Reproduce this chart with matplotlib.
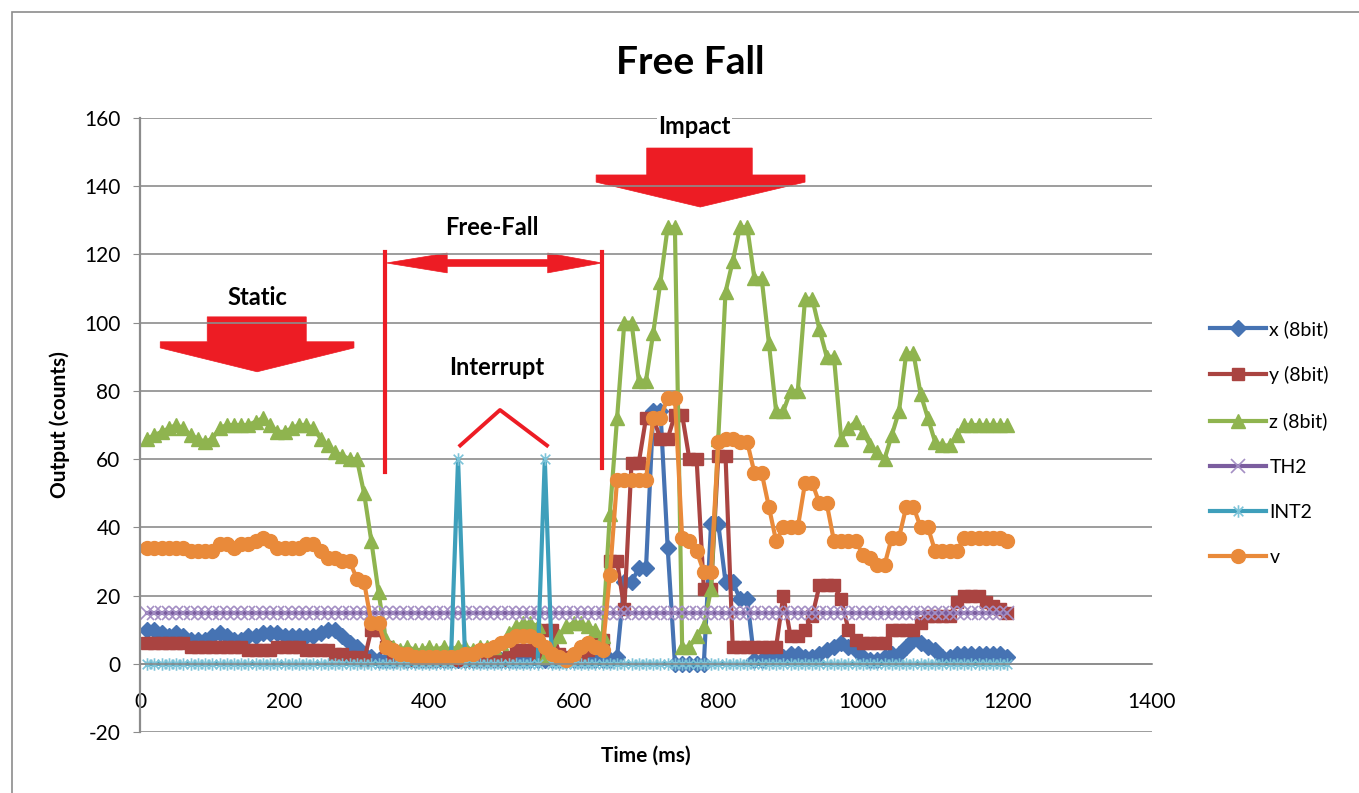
import matplotlib
matplotlib.use("Agg")
import matplotlib.pyplot as plt
from matplotlib.patches import Polygon, Rectangle
from matplotlib.path import Path
import numpy as np

plt.rcParams['font.family'] = ['Lato', 'DejaVu Sans']
plt.rcParams['axes.unicode_minus'] = False

# ==========================================
# DATA (one sample every 10 ms)
# ==========================================
time_ms = np.arange(10, 1210, 10)

x_8bit = [10, 10, 9, 8, 9, 8, 7, 7, 7, 8,
          9, 8, 7, 7, 8, 8, 9, 9, 9, 8,
          8, 8, 8, 8, 9, 10, 10, 8, 6, 5,
          3, 2, 1, 1, 1, 2, 1, 1, 1, 1,
          1, 1, 1, 1, 1, 1, 1, 1, 1, 1,
          1, 1, 1, 1, 1, 1, 1, 1, 1, 1,
          1, 1, 1, 1, 1, 2, 24, 24, 28, 28,
          74, 74, 34, 0, 0, 0, 0, 0, 41, 41,
          24, 24, 19, 19, 1, 1, 2, 2, 2, 3,
          3, 2, 2, 3, 4, 5, 6, 5, 4, 2,
          1, 1, 2, 3, 3, 5, 7, 6, 5, 4,
          2, 2, 3, 3, 3, 3, 3, 3, 3, 2]

y_8bit = [6, 6, 6, 6, 6, 6, 5, 5, 5, 5,
          5, 5, 5, 5, 4, 4, 4, 4, 5, 5,
          5, 5, 4, 4, 4, 4, 3, 3, 2, 2,
          1, 10, 10, 5, 2, 1, 1, 1, 2, 1,
          1, 1, 1, 2, 1, 1, 1, 2, 1, 1,
          2, 4, 4, 4, 3, 10, 10, 3, 2, 2,
          2, 4, 6, 7, 30, 30, 16, 59, 59, 72,
          72, 66, 66, 73, 73, 60, 60, 22, 22, 61,
          61, 5, 5, 5, 5, 5, 5, 5, 20, 8,
          8, 10, 14, 23, 23, 23, 19, 10, 7, 6,
          6, 6, 6, 10, 10, 10, 10, 12, 14, 14,
          14, 14, 18, 20, 20, 20, 18, 17, 16, 15]

z_8bit = [66, 67, 68, 69, 70, 69, 67, 66, 65, 66,
          69, 70, 70, 70, 70, 71, 72, 70, 68, 68,
          69, 70, 70, 69, 66, 64, 62, 61, 60, 60,
          50, 36, 21, 7, 5, 4, 5, 4, 4, 5,
          4, 5, 4, 5, 5, 4, 5, 5, 5, 6,
          9, 11, 12, 12, 11, 2, 4, 8, 11, 12,
          12, 11, 10, 8, 44, 72, 100, 100, 83, 83,
          97, 112, 128, 128, 5, 5, 8, 11, 22, 66,
          109, 118, 128, 128, 113, 113, 94, 74, 74, 80,
          80, 107, 107, 98, 90, 90, 66, 69, 71, 68,
          64, 62, 60, 67, 74, 91, 91, 79, 72, 65,
          64, 64, 67, 70, 70, 70, 70, 70, 70, 70]

th2 = [15] * 120

int2 = [0, 0, 0, 0, 0, 0, 0, 0, 0, 0,
        0, 0, 0, 0, 0, 0, 0, 0, 0, 0,
        0, 0, 0, 0, 0, 0, 0, 0, 0, 0,
        0, 0, 0, 0, 0, 0, 0, 0, 0, 0,
        0, 0, 0, 60, 0, 0, 0, 0, 0, 0,
        0, 0, 0, 0, 0, 60, 0, 0, 0, 0,
        0, 0, 0, 0, 0, 0, 0, 0, 0, 0,
        0, 0, 0, 0, 0, 0, 0, 0, 0, 0,
        0, 0, 0, 0, 0, 0, 0, 0, 0, 0,
        0, 0, 0, 0, 0, 0, 0, 0, 0, 0,
        0, 0, 0, 0, 0, 0, 0, 0, 0, 0,
        0, 0, 0, 0, 0, 0, 0, 0, 0, 0]

v = [34, 34, 34, 34, 34, 34, 33, 33, 33, 33,
     35, 35, 34, 35, 35, 36, 37, 36, 34, 34,
     34, 34, 35, 35, 33, 31, 31, 30, 30, 25,
     24, 12, 12, 5, 4, 3, 3, 2, 2, 2,
     2, 2, 2, 2, 3, 3, 4, 4, 5, 6,
     7, 8, 8, 8, 7, 5, 3, 2, 1, 3,
     5, 6, 5, 4, 26, 54, 54, 54, 54, 54,
     72, 72, 78, 78, 37, 36, 33, 27, 27, 65,
     66, 66, 65, 65, 56, 56, 46, 36, 40, 40,
     40, 53, 53, 47, 47, 36, 36, 36, 36, 32,
     31, 29, 29, 37, 37, 46, 46, 40, 40, 33,
     33, 33, 33, 37, 37, 37, 37, 37, 37, 36]

# ==========================================
# FIGURE
# ==========================================
W, H = 1359, 793
fig = plt.figure(figsize=(W / 100, H / 100), dpi=100)
ax = fig.add_axes([140 / W, 1 - 732 / H, (1152 - 140) / W, (732 - 118) / H])

# Excel-like asterisk marker
asterisk = Path([(-1, -1), (1, 1), (-1, 1), (1, -1), (0, -1.3), (0, 1.3)],
                [Path.MOVETO, Path.LINETO, Path.MOVETO, Path.LINETO,
                 Path.MOVETO, Path.LINETO])

lw = 3.0
ax.plot(time_ms, x_8bit, color='#4673B3', lw=lw, marker='D', ms=8, label='x (8bit)')
ax.plot(time_ms, y_8bit, color='#AA4441', lw=lw, marker='s', ms=9, label='y (8bit)')
ax.plot(time_ms, z_8bit, color='#8FB44F', lw=lw, marker='^', ms=10.5, label='z (8bit)')
ax.plot(time_ms, th2, color='#7B5D9F', lw=lw, marker='x', ms=9.5, mew=1.2,
        mec='#A48FC4', label='TH2')
ax.plot(time_ms, int2, color='#3E9FBB', lw=lw, marker=asterisk, ms=9, mew=1.2,
        mec='#7CC3D8', label='INT2')
ax.plot(time_ms, v, color='#E98A3A', lw=lw, marker='o', ms=10, label='v')

ax.set_xlim(0, 1400)
ax.set_ylim(-20, 160)
ax.set_xticks(range(0, 1401, 200))
ax.set_yticks(range(-20, 161, 20))
ax.yaxis.grid(True, color='#8c8c8c', lw=1.2)
for s in ['top', 'right']:
    ax.spines[s].set_visible(False)
ax.spines['bottom'].set_position(('data', 0))
ax.spines['bottom'].set_color('#8c8c8c')
ax.spines['bottom'].set_linewidth(1.2)
ax.spines['left'].set_color('#8c8c8c')
ax.spines['left'].set_linewidth(1.6)
ax.tick_params(axis='y', direction='out', length=5, color='#8c8c8c',
               pad=9, labelsize=15)
ax.tick_params(axis='x', length=0, pad=20, labelsize=15)

# ==========================================
# ANNOTATIONS
# ==========================================
red = '#ED1C24'
static_arrow = [(93, 101.7), (230, 101.7), (230, 94.4), (296, 94.4), (296, 92.6),
                (162, 85.6), (28, 92.6), (28, 94.4), (93, 94.4)]
impact_arrow = [(701, 151.2), (847, 151.2), (847, 143.3), (920, 143.3), (920, 141.2),
                (775, 133.9), (631, 141.2), (631, 143.3), (701, 143.3)]
span_arrow = [(341, 117.5), (425, 120.4), (425, 118.5), (564, 118.5), (564, 120.4),
              (639, 117.5), (564, 114.6), (564, 116.5), (425, 116.5), (425, 114.6)]
for pts in (static_arrow, impact_arrow, span_arrow):
    ax.add_patch(Polygon(pts, closed=True, facecolor=red, edgecolor=red, lw=0.5))

ax.plot([339, 339], [56.3, 120.7], color=red, lw=3)
ax.plot([639, 639], [57.4, 120.7], color=red, lw=3)
ax.plot([443, 498, 563], [64, 74.4, 64], color=red, lw=2.8)

label_kw = dict(fontsize=17, fontweight='bold', ha='center', va='center')
ax.text(163, 107.5, 'Static', **label_kw)
ax.text(487, 127.8, 'Free-Fall', **label_kw)
ax.text(494, 87, 'Interrupt', **label_kw)
ax.text(767, 157.5, 'Impact', bbox=dict(facecolor='white', edgecolor='none', pad=1),
        **label_kw)

# ==========================================
# TITLES, LEGEND, BORDER
# ==========================================
fig.text(690 / W, 1 - 62 / H, 'Free Fall', fontsize=28, fontweight='bold',
         ha='center', va='center')
fig.text(60 / W, 1 - 425 / H, 'Output (counts)', fontsize=15, fontweight='bold',
         rotation=90, ha='center', va='center')
fig.text(646 / W, 1 - 756 / H, 'Time (ms)', fontsize=15, fontweight='bold',
         ha='center', va='center')

fig.legend(loc='center left', bbox_to_anchor=(1210 / W, 1 - 443 / H),
           frameon=False, fontsize=14, handlelength=2.9, handletextpad=0.15,
           labelspacing=1.45, borderpad=0, borderaxespad=0)

fig.patches.append(Rectangle((12 / W, -0.1), 2, 1.1 - 12 / H, transform=fig.transFigure,
                             fill=False, edgecolor='#8c8c8c', lw=1.2))

fig.savefig('out.png', dpi=100)
